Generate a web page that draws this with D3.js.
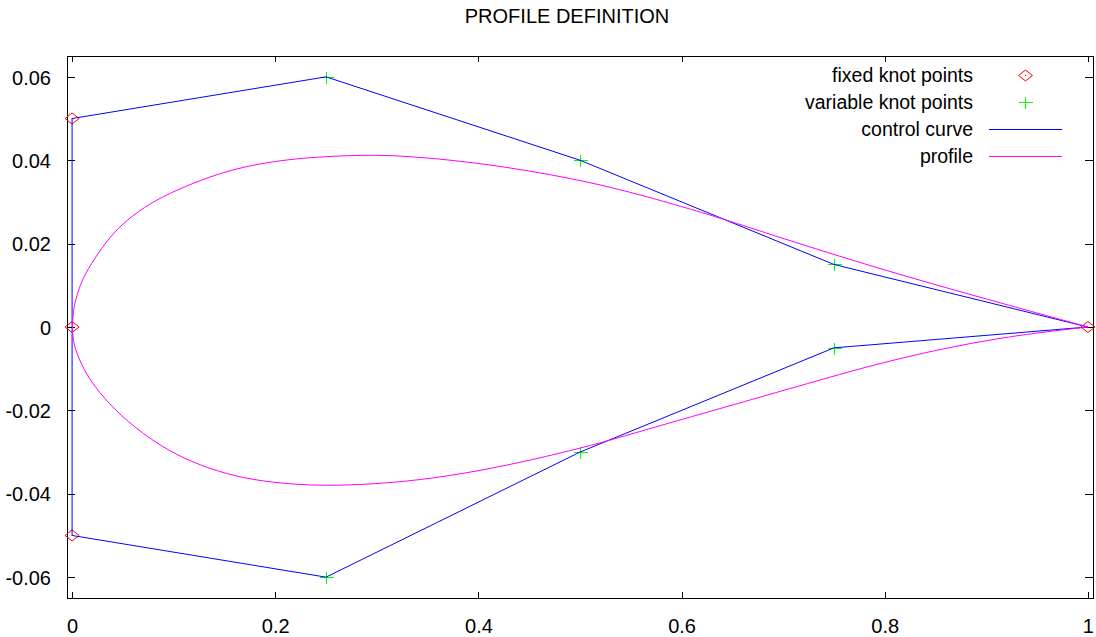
<!DOCTYPE html>
<html lang="en">
<head>
    <meta charset="UTF-8">
    <title>Profile definition</title>
    <script src="https://cdn.jsdelivr.net/npm/d3@7"></script>
    <style>
        body { margin: 0; background: #fff; }
        svg text { font-family: 'Liberation Sans', Arial, sans-serif; }
    </style>
</head>
<body>
    <script>
        // values
        const fixedKnots = [[0, 0.05], [0, 0], [0, -0.05], [1, 0]]
        const variableKnots = [[0.25, 0.06], [0.5, 0.04], [0.75, 0.015], [0.25, -0.06], [0.5, -0.03], [0.75, -0.005]]
        const controlCurve = [
            [1, 0], [0.75, 0.015], [0.5, 0.04], [0.25, 0.06], [0, 0.05], [0, 0],
            [0, -0.05], [0.25, -0.06], [0.5, -0.03], [0.75, -0.005], [1, 0]
        ]
        // upper surface, trailing edge -> leading edge
        const profileUpper = [
            [1, 0], [0.9134, 0.0058], [0.815, 0.0125], [0.7165, 0.0199], [0.6476, 0.0254],
            [0.6181, 0.0276], [0.5689, 0.0311], [0.5197, 0.0342], [0.4705, 0.0366], [0.4213, 0.0386],
            [0.372, 0.0401], [0.3228, 0.0411], [0.2835, 0.0413], [0.2178, 0.0405], [0.1686, 0.0385],
            [0.1358, 0.0361], [0.103, 0.0329], [0.0768, 0.0297], [0.0538, 0.0257], [0.0374, 0.0217],
            [0.021, 0.0161], [0.0115, 0.012], [0.0075, 0.0097], [0.0034, 0.0065], [0.0013, 0.004], [0, 0]
        ]
        // lower surface, leading edge -> trailing edge
        const profileLower = [
            [0.00095, -0.003], [0.0038, -0.006], [0.014, -0.0115], [0.0308, -0.017], [0.0538, -0.0226],
            [0.0866, -0.0286], [0.1194, -0.0326], [0.1523, -0.0353], [0.185, -0.037], [0.2343, -0.0381],
            [0.2835, -0.0379], [0.342, -0.0368], [0.4016, -0.0345], [0.454, -0.0318], [0.5033, -0.0289],
            [0.5361, -0.0267], [0.5853, -0.0232], [0.6476, -0.0189], [0.7362, -0.0127], [0.815, -0.0073],
            [0.9134, -0.0024], [1, 0]
        ]
        const xTicks = [0, 0.2, 0.4, 0.6, 0.8, 1]
        const xTickLabels = ['0', '0.2', '0.4', '0.6', '0.8', '1']
        const yTicks = [-0.06, -0.04, -0.02, 0, 0.02, 0.04, 0.06]
        const yTickLabels = ['-0.06', '-0.04', '-0.02', '0', '0.02', '0.04', '0.06']
        const legendNames = ['fixed knot points', 'variable knot points', 'control curve', 'profile']

        const width = 1096
        const height = 637
        const margin = { top: 56, right: 3, bottom: 39, left: 67 }
        const fontSize = 20

        const svg = d3.select('body').append('svg')
            .attr('width', width)
            .attr('height', height)

        const xScale = d3.scaleLinear()
            .domain([-0.005, 1.005])
            .range([margin.left, width - margin.right])
        const yScale = d3.scaleLinear()
            .domain([-0.065, 0.065])
            .range([height - margin.bottom, margin.top])

        svg.append('text')
            .attr('x', 567)
            .attr('y', 23)
            .attr('text-anchor', 'middle')
            .attr('font-size', 20)
            .attr('fill', '#000')
            .text('PROFILE DEFINITION')

        // axes: inward ticks, mirrored on top and right
        function styleAxis(g) {
            g.select('.domain').remove()
            g.selectAll('line').attr('stroke', '#000').attr('shape-rendering', 'crispEdges')
            g.selectAll('text').attr('font-size', fontSize).attr('fill', '#000')
                .attr('font-family', "'Liberation Sans', Arial, sans-serif")
        }
        const xFmt = (d) => xTickLabels[xTicks.indexOf(d)]
        const yFmt = (d) => yTickLabels[yTicks.indexOf(d)]

        svg.append('g')
            .attr('transform', `translate(0, ${height - margin.bottom})`)
            .call(d3.axisBottom(xScale).tickValues(xTicks).tickFormat(xFmt).tickSize(-6).tickPadding(21))
            .call(styleAxis)
        svg.append('g')
            .attr('transform', `translate(0, ${margin.top})`)
            .call(d3.axisTop(xScale).tickValues(xTicks).tickFormat('').tickSize(-6))
            .call(styleAxis)
        svg.append('g')
            .attr('transform', `translate(${margin.left}, 0)`)
            .call(d3.axisLeft(yScale).tickValues(yTicks).tickFormat(yFmt).tickSize(-8).tickPadding(16))
            .call(styleAxis)
            .selectAll('text').attr('dy', '0.36em')
        svg.append('g')
            .attr('transform', `translate(${width - margin.right}, 0)`)
            .call(d3.axisRight(yScale).tickValues(yTicks).tickFormat('').tickSize(-8))
            .call(styleAxis)

        svg.append('rect')
            .attr('x', margin.left)
            .attr('y', margin.top)
            .attr('width', width - margin.left - margin.right)
            .attr('height', height - margin.top - margin.bottom)
            .attr('fill', 'none')
            .attr('stroke', '#000')
            .attr('shape-rendering', 'crispEdges')

        const diamond = 'M-7,0L0,-5.5L7,0L0,5.5Z'
        const plus = 'M-7,0H7M0,-6V6'

        function drawDiamond(sel, x, y) {
            sel.append('path')
                .attr('d', diamond)
                .attr('transform', `translate(${x}, ${y})`)
                .attr('fill', 'none')
                .attr('stroke', '#ff0000')
            sel.append('rect')
                .attr('x', x - 0.5).attr('y', y - 0.5)
                .attr('width', 1).attr('height', 1)
                .attr('fill', '#ff0000')
        }
        function drawPlus(sel, x, y) {
            sel.append('path')
                .attr('d', plus)
                .attr('transform', `translate(${x}, ${y})`)
                .attr('stroke', '#00ff00')
                .attr('shape-rendering', 'crispEdges')
        }

        const plot = svg.append('g')
        fixedKnots.forEach(d => drawDiamond(plot, xScale(d[0]), yScale(d[1])))
        variableKnots.forEach(d => drawPlus(plot, Math.round(xScale(d[0])) + 0.5, Math.round(yScale(d[1])) + 0.5))

        const line = d3.line()
            .x(d => xScale(d[0]))
            .y(d => yScale(d[1]))

        plot.append('path')
            .datum(controlCurve)
            .attr('d', line)
            .attr('fill', 'none')
            .attr('stroke', '#0000ff')
            .attr('stroke-width', 1)

        const smooth = d3.line()
            .x(d => xScale(d[0]))
            .y(d => yScale(d[1]))
            .curve(d3.curveBasis)

        plot.append('path')
            .datum(profileUpper.concat(profileLower))
            .attr('d', smooth)
            .attr('fill', 'none')
            .attr('stroke', '#ff00ff')
            .attr('stroke-width', 1)

        // legend
        const legendTextX = 973
        const legendRowY = [75.5, 102.5, 129.5, 156.5]
        const legend = svg.append('g')
        legendNames.forEach((name, i) => {
            legend.append('text')
                .attr('x', legendTextX)
                .attr('y', legendRowY[i])
                .attr('dy', '0.32em')
                .attr('text-anchor', 'end')
                .attr('font-size', 19.5)
                .attr('fill', '#000')
                .text(name)
        })
        drawDiamond(legend, 1025.5, legendRowY[0])
        drawPlus(legend, 1025.5, legendRowY[1])
        legend.append('line')
            .attr('x1', 989).attr('x2', 1062)
            .attr('y1', legendRowY[2]).attr('y2', legendRowY[2])
            .attr('stroke', '#0000ff')
        legend.append('line')
            .attr('x1', 989).attr('x2', 1062)
            .attr('y1', legendRowY[3]).attr('y2', legendRowY[3])
            .attr('stroke', '#ff00ff')
    </script>
</body>
</html>
